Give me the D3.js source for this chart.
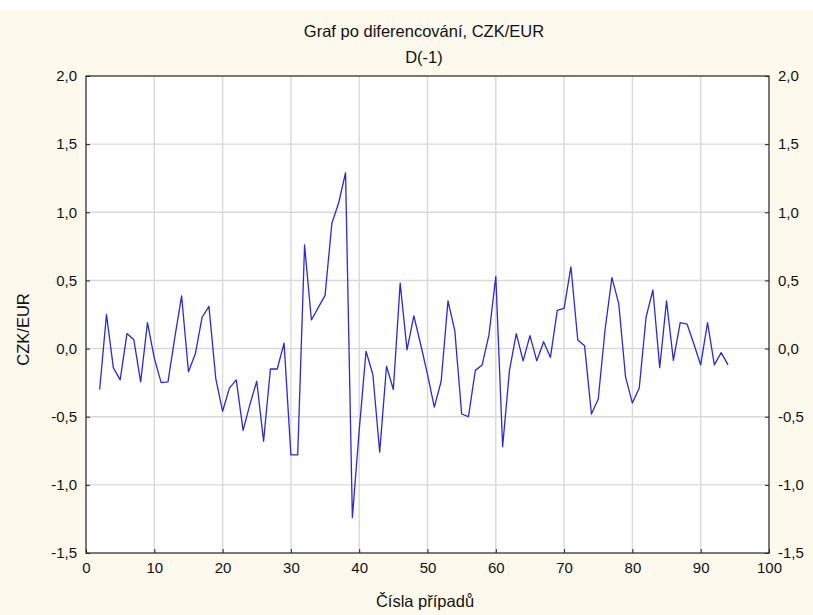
<!DOCTYPE html>
<html><head><meta charset="utf-8">
<script src="https://cdn.jsdelivr.net/npm/d3@7"></script>
<style>
body{margin:0;background:#fdf9ed;}
svg{display:block;}
text{font-family:"Liberation Sans",Arial,sans-serif;fill:#111;}
</style></head>
<body>
<script>
const caseNumbers = d3.range(2, 95);
const values = [
 -0.30, 0.25, -0.14, -0.23, 0.11, 0.065, -0.245, 0.19, -0.07, -0.25,
 -0.245, 0.08, 0.386, -0.17, -0.04, 0.23, 0.31, -0.22, -0.46, -0.29,
 -0.23, -0.60, -0.41, -0.24, -0.68, -0.15, -0.15, 0.04, -0.78, -0.78,
 0.76, 0.21, 0.30, 0.39, 0.92, 1.07, 1.29, -1.24, -0.60, -0.02,
 -0.19, -0.76, -0.13, -0.30, 0.48, -0.01, 0.24, 0.03, -0.19, -0.43,
 -0.24, 0.35, 0.13, -0.48, -0.50, -0.16, -0.12, 0.10, 0.53, -0.72,
 -0.16, 0.11, -0.09, 0.095, -0.09, 0.05, -0.065, 0.28, 0.295, 0.60,
 0.063, 0.02, -0.48, -0.37, 0.14, 0.52, 0.33, -0.21, -0.40, -0.29,
 0.23, 0.43, -0.14, 0.35, -0.087, 0.19, 0.18, 0.034, -0.12, 0.19,
 -0.12, -0.03, -0.12
];
const xTicks = d3.range(0, 101, 10);
const yTicks = [2.0, 1.5, 1.0, 0.5, 0.0, -0.5, -1.0, -1.5];
const title = "Graf po diferencování, CZK/EUR";
const subtitle = "D(-1)";
const xLabel = "Čísla případů";
const yLabel = "CZK/EUR";

const W = 813, H = 615;
const m = {l: 86, r: 813 - 769, t: 76, b: 615 - 553};
const svg = d3.select("body").append("svg").attr("width", W).attr("height", H);
svg.append("rect").attr("width", W).attr("height", 10).attr("fill", "#ffffff");

const x = d3.scaleLinear().domain([0, 100]).range([m.l, W - m.r]);
const y = d3.scaleLinear().domain([-1.5, 2.0]).range([H - m.b, m.t]);
const fmt = v => d3.format(".1f")(v).replace(".", ",").replace("−", "-");

svg.append("rect").attr("x", m.l).attr("y", m.t)
  .attr("width", x(100) - x(0)).attr("height", y(-1.5) - y(2))
  .attr("fill", "#ffffff");

// grid
const g = svg.append("g");
g.selectAll("line.vx").data(xTicks.slice(1, -1)).join("line")
  .attr("x1", d => x(d)).attr("x2", d => x(d))
  .attr("y1", y(2)).attr("y2", y(-1.5))
  .attr("stroke", "#d9d9d9").attr("stroke-width", 1.4);
g.selectAll("line.hy").data(yTicks.slice(1, -1)).join("line")
  .attr("y1", d => y(d)).attr("y2", d => y(d))
  .attr("x1", x(0)).attr("x2", x(100))
  .attr("stroke", "#d9d9d9").attr("stroke-width", 1.4);

// axes
const axB = d3.axisBottom(x).tickValues(xTicks).tickSizeInner(-4).tickSizeOuter(0).tickPadding(9).tickFormat(d3.format("d"));
const axL = d3.axisLeft(y).tickValues(yTicks).tickSizeInner(-4).tickSizeOuter(0).tickPadding(9).tickFormat(fmt);
const axR = d3.axisRight(y).tickValues(yTicks).tickSizeInner(-4).tickSizeOuter(0).tickPadding(9).tickFormat(fmt);
function styleAx(s){
  s.selectAll("text").style("font-size", "15px").attr("fill", "#111");
  s.selectAll(".tick line").attr("stroke", "#222");
  s.select(".domain").remove();
}
svg.append("g").attr("transform", `translate(0,${y(-1.5)})`).call(axB).call(styleAx);
svg.append("g").attr("transform", `translate(${x(0)},0)`).call(axL).call(styleAx);
svg.append("g").attr("transform", `translate(${x(100)},0)`).call(axR).call(styleAx);

svg.append("rect").attr("x", x(0)).attr("y", y(2))
  .attr("width", x(100) - x(0)).attr("height", y(-1.5) - y(2))
  .attr("fill", "none").attr("stroke", "#222").attr("stroke-width", 1.2);

// line
const data = caseNumbers.map((c, i) => [c, values[i]]);
svg.append("path").datum(data)
  .attr("fill", "none").attr("stroke", "#2a2ad6").attr("stroke-width", 1.3)
  .attr("stroke-linejoin", "round")
  .attr("d", d3.line().x(d => x(d[0])).y(d => y(d[1])));

// labels
svg.append("text").attr("x", 424).attr("y", 37).attr("text-anchor", "middle").style("font-size", "16.5px").text(title);
svg.append("text").attr("x", 424).attr("y", 63).attr("text-anchor", "middle").style("font-size", "16.5px").text(subtitle);
svg.append("text").attr("x", 425).attr("y", 607).attr("text-anchor", "middle").style("font-size", "16.5px").text(xLabel);
svg.append("text").attr("transform", `translate(29,${y(0.14)}) rotate(-90)`).attr("text-anchor", "middle").style("font-size", "16.5px").text(yLabel);
</script>
</body></html>
